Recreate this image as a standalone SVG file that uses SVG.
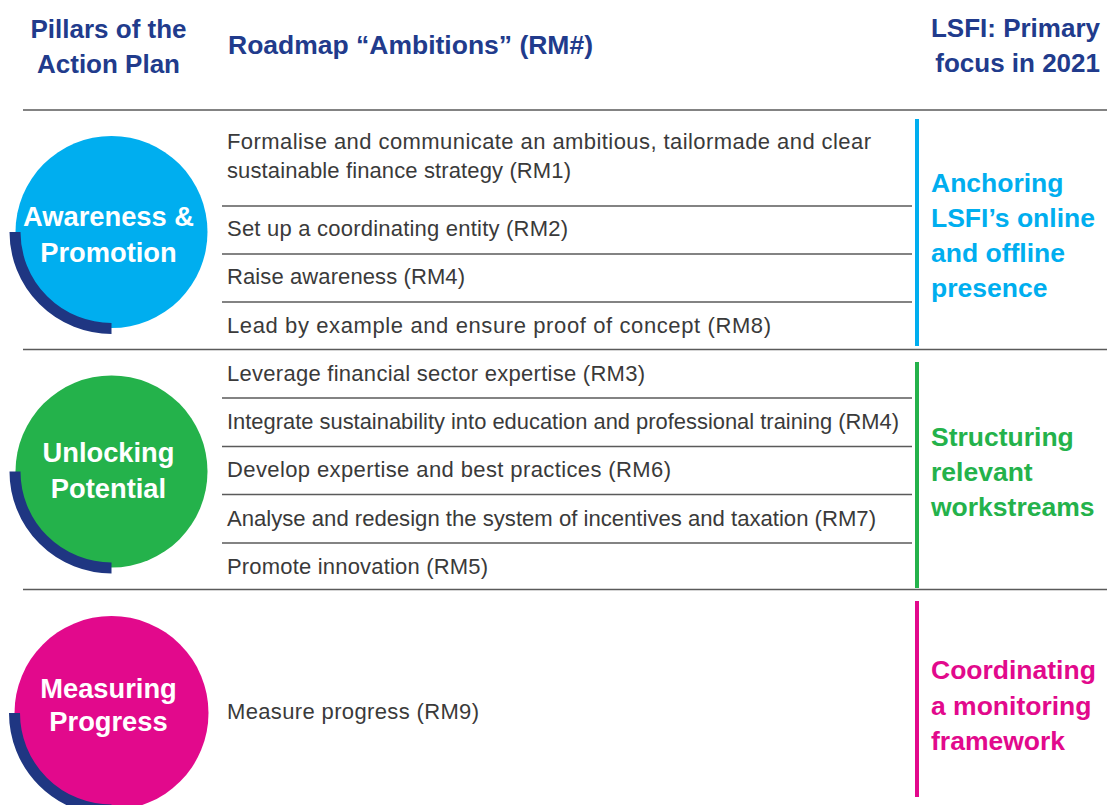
<svg xmlns="http://www.w3.org/2000/svg" width="1107" height="805" viewBox="0 0 1107 805">
<style>
.hdr{font-family:"Liberation Sans",Arial,sans-serif;font-weight:bold;font-size:26px;fill:#213B8C}
.ctx{font-family:"Liberation Sans",Arial,sans-serif;font-weight:bold;font-size:27.3px;fill:#fff;text-anchor:middle}
.body{font-family:"Liberation Sans",Arial,sans-serif;font-size:22px;fill:#3a3a3a}
.foc{font-family:"Liberation Sans",Arial,sans-serif;font-weight:bold;font-size:26.5px}
.sep{stroke:#5a5a5a;stroke-width:1.5}
.arc{fill:none;stroke:#1F3682;stroke-width:11}
</style>
<rect width="1107" height="805" fill="#fff"/>
<g id="header">
<text class="hdr" x="108.5" y="38" text-anchor="middle">Pillars of the</text>
<text class="hdr" x="108.5" y="72.5" text-anchor="middle">Action Plan</text>
<text class="hdr" x="228" y="54" textLength="365" lengthAdjust="spacingAndGlyphs">Roadmap “Ambitions” (RM#)</text>
<text class="hdr" x="1100" y="37" text-anchor="end">LSFI: Primary</text>
<text class="hdr" x="1100" y="72" text-anchor="end">focus in 2021</text>
</g>
<g id="connectors">
<line class="sep" x1="23" y1="110" x2="1107" y2="110"/>
<line class="sep" x1="222" y1="206" x2="912" y2="206"/>
<line class="sep" x1="222" y1="254" x2="912" y2="254"/>
<line class="sep" x1="222" y1="302" x2="912" y2="302"/>
<line class="sep" x1="23" y1="349.5" x2="1107" y2="349.5"/>
<line class="sep" x1="222" y1="398" x2="912" y2="398"/>
<line class="sep" x1="222" y1="446.5" x2="912" y2="446.5"/>
<line class="sep" x1="222" y1="494.5" x2="912" y2="494.5"/>
<line class="sep" x1="222" y1="543" x2="912" y2="543"/>
<line class="sep" x1="23" y1="589.5" x2="1107" y2="589.5"/>
</g>
<g id="pillar-awareness">
<circle cx="111.5" cy="232" r="96" fill="#00AEEF"/>
<path class="arc" d="M15 232 A96.5 96.5 0 0 0 111.5 328.5"/>
<text class="ctx" x="108.5" y="226">Awareness &amp;</text>
<text class="ctx" x="108.5" y="261.5">Promotion</text>
</g>
<g id="pillar-unlocking">
<circle cx="111.5" cy="471.5" r="96" fill="#24B24B"/>
<path class="arc" d="M15 471.5 A96.5 96.5 0 0 0 111.5 568"/>
<text class="ctx" x="108.5" y="462">Unlocking</text>
<text class="ctx" x="108.5" y="497.5">Potential</text>
</g>
<g id="pillar-measuring">
<circle cx="111.5" cy="713" r="97" fill="#E2098C"/>
<path class="arc" d="M14.5 713 A97 97 0 0 0 111.5 810"/>
<text class="ctx" x="108.5" y="697.5">Measuring</text>
<text class="ctx" x="108.5" y="731">Progress</text>
</g>
<g id="ambitions">
<text class="body" x="227" y="149" textLength="644" lengthAdjust="spacing">Formalise and communicate an ambitious, tailormade and clear</text>
<text class="body" x="227" y="178" textLength="344" lengthAdjust="spacing">sustainable finance strategy (RM1)</text>
<text class="body" x="227" y="236" textLength="341" lengthAdjust="spacing">Set up a coordinating entity (RM2)</text>
<text class="body" x="227" y="284" textLength="238" lengthAdjust="spacing">Raise awareness (RM4)</text>
<text class="body" x="227" y="333" textLength="544" lengthAdjust="spacing">Lead by example and ensure proof of concept (RM8)</text>
<text class="body" x="227" y="381" textLength="418" lengthAdjust="spacing">Leverage financial sector expertise (RM3)</text>
<text class="body" x="227" y="429" textLength="672" lengthAdjust="spacingAndGlyphs">Integrate sustainability into education and professional training (RM4)</text>
<text class="body" x="227" y="477" textLength="444" lengthAdjust="spacing">Develop expertise and best practices (RM6)</text>
<text class="body" x="227" y="526" textLength="649" lengthAdjust="spacingAndGlyphs">Analyse and redesign the system of incentives and taxation (RM7)</text>
<text class="body" x="227" y="574" textLength="261" lengthAdjust="spacing">Promote innovation (RM5)</text>
<text class="body" x="227" y="719" textLength="252" lengthAdjust="spacing">Measure progress (RM9)</text>
</g>
<g id="focus-anchoring">
<rect x="915" y="119" width="4" height="227" fill="#00AEEF"/>
<text class="foc" fill="#00AEEF" x="931" y="192">Anchoring</text>
<text class="foc" fill="#00AEEF" x="931" y="227">LSFI’s online</text>
<text class="foc" fill="#00AEEF" x="931" y="262">and offline</text>
<text class="foc" fill="#00AEEF" x="931" y="297">presence</text>
</g>
<g id="focus-structuring">
<rect x="915" y="362" width="4" height="226" fill="#24B24B"/>
<text class="foc" fill="#24B24B" x="931" y="446">Structuring</text>
<text class="foc" fill="#24B24B" x="931" y="481">relevant</text>
<text class="foc" fill="#24B24B" x="931" y="516">workstreams</text>
</g>
<g id="focus-coordinating">
<rect x="915" y="601" width="4" height="196" fill="#E2098C"/>
<text class="foc" fill="#E2098C" x="931" y="679">Coordinating</text>
<text class="foc" fill="#E2098C" x="931" y="715">a monitoring</text>
<text class="foc" fill="#E2098C" x="931" y="750">framework</text>
</g>
</svg>
